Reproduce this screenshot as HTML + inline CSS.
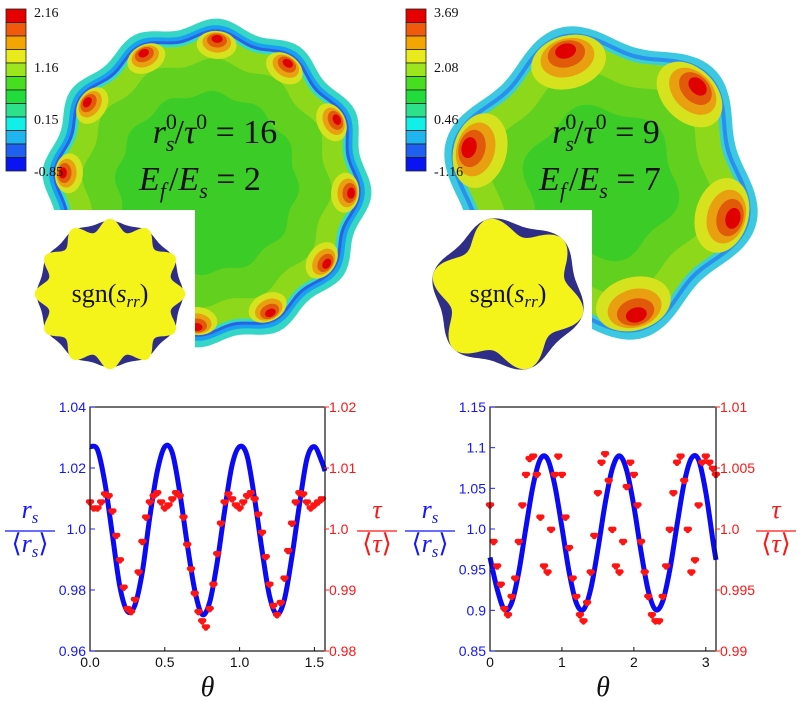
<!DOCTYPE html>
<html><head><meta charset="utf-8"><style>
html,body{margin:0;padding:0;background:#fff;}
svg{display:block;}
</style></head><body>
<svg id="fig" width="800" height="703" viewBox="0 0 800 703" xmlns="http://www.w3.org/2000/svg">
<g id="topPanels"></g>
<g id="bottomPlots"></g>
</svg>
<script>
// ---- Left plot data ----
const leftBlueTheta = [0,0.05,0.10,0.15,0.20,0.25,0.30,0.35,0.40,0.45,0.50,0.55,0.60,0.65,0.70,0.75,0.80,0.85,0.90,0.95,1.00,1.05,1.10,1.15,1.20,1.25,1.30,1.35,1.40,1.45,1.50,1.55,1.5708];
const leftBlueRs = [1.027,1.026,1.015,0.998,0.981,0.973,0.975,0.986,1.004,1.019,1.027,1.025,1.012,0.995,0.980,0.972,0.976,0.989,1.006,1.021,1.027,1.024,1.010,0.993,0.978,0.972,0.977,0.991,1.008,1.023,1.027,1.022,1.019];
const leftRedTheta = [0,0.025,0.05,0.075,0.1,0.125,0.15,0.175,0.2,0.225,0.25,0.275,0.3,0.325,0.35,0.375,0.4,0.425,0.45,0.475,0.5,0.525,0.55,0.575,0.6,0.625,0.65,0.675,0.7,0.725,0.75,0.775,0.8,0.825,0.85,0.875,0.9,0.925,0.95,0.975,1.0,1.025,1.05,1.075,1.1,1.125,1.15,1.175,1.2,1.225,1.25,1.275,1.3,1.325,1.35,1.375,1.4,1.425,1.45,1.475,1.5,1.525,1.55];
const leftRedTau = [1.0045,1.0035,1.0035,1.0045,1.0058,1.0055,1.0030,0.9990,0.9950,0.9905,0.9870,0.9865,0.9885,0.9930,0.9980,1.0020,1.0045,1.0055,1.0060,1.0045,1.0035,1.0040,1.0050,1.0060,1.0055,1.0020,0.9975,0.9935,0.9895,0.9865,0.9850,0.9840,0.9870,0.9910,0.9960,1.0010,1.0045,1.0058,1.0050,1.0040,1.0035,1.0045,1.0055,1.0060,1.0050,1.0025,0.9995,0.9955,0.9910,0.9875,0.9860,0.9880,0.9920,0.9965,1.0010,1.0045,1.0060,1.0058,1.0045,1.0035,1.0040,1.0045,1.0050];
const leftXTicks = ["0.0","0.5","1.0","1.5"];
const leftYLTicks = ["0.96","0.98","1.0","1.02","1.04"];
const leftYRTicks = ["0.98","0.99","1.0","1.01","1.02"];
// ---- Right plot data ----
const rightBlueTheta = [0,0.1,0.2,0.3,0.4,0.5,0.6,0.7,0.8,0.9,1.0,1.1,1.2,1.3,1.4,1.5,1.6,1.7,1.8,1.9,2.0,2.1,2.2,2.3,2.4,2.5,2.6,2.7,2.8,2.9,3.0,3.1,3.1416];
const rightBlueRs = [0.965,0.926,0.901,0.909,0.947,1.002,1.054,1.086,1.086,1.054,1.002,0.947,0.909,0.901,0.926,0.975,1.031,1.074,1.090,1.072,1.028,0.972,0.924,0.901,0.911,0.950,1.005,1.057,1.087,1.085,1.045,0.985,0.962];
const rightRedTheta = [0,0.05,0.1,0.15,0.2,0.25,0.3,0.35,0.4,0.45,0.5,0.55,0.6,0.65,0.7,0.75,0.8,0.85,0.9,0.95,1.0,1.05,1.1,1.15,1.2,1.25,1.3,1.35,1.4,1.45,1.5,1.55,1.6,1.65,1.7,1.75,1.8,1.85,1.9,1.95,2.0,2.05,2.1,2.15,2.2,2.25,2.3,2.35,2.4,2.45,2.5,2.55,2.6,2.65,2.7,2.75,2.8,2.85,2.9,2.95,3.0,3.05,3.1,3.14];
const rightRedTau = [1.002,0.999,0.997,0.9955,0.9935,0.9930,0.9945,0.9960,0.9990,1.0020,1.0045,1.0058,1.0060,1.0045,1.0010,0.9970,0.9965,1.0000,1.0045,1.0060,1.0045,1.0010,0.9985,0.9960,0.9945,0.9930,0.9925,0.9940,0.9965,0.9995,1.0030,1.0055,1.0062,1.0040,1.0000,0.9970,0.9965,0.9990,1.0035,1.0055,1.0045,1.0020,0.9990,0.9965,0.9945,0.9930,0.9925,0.9925,0.9945,0.9970,1.0000,1.0030,1.0055,1.0060,1.0040,1.0000,0.9965,0.9975,1.0020,1.0055,1.0060,1.0055,1.0050,1.0045];
const rightXTicks = ["0","1","2","3"];
const rightYLTicks = ["0.85","0.9","0.95","1.0","1.05","1.1","1.15"];
const rightYRTicks = ["0.99","0.995","1.0","1.005","1.01"];

const NS="http://www.w3.org/2000/svg";
function mk(tag, attrs, parent){const e=document.createElementNS(NS,tag);for(const k in attrs)e.setAttribute(k,attrs[k]);if(parent)parent.appendChild(e);return e;}

// ================= TOP PANELS =================
const topG=document.getElementById('topPanels');
function blob(cx,cy,R,amp,n,ph,scale){
  let d='';
  for(let t=0;t<=360;t+=2){const a=t*Math.PI/180;const r=scale*R*(1+amp*Math.cos(n*(a-ph*Math.PI/180)));
    const x=cx+r*Math.cos(a),y=cy+r*Math.sin(a);d+=(t?'L':'M')+x.toFixed(1)+' '+y.toFixed(1);}
  return d+'Z';
}
const cbColors=['#e60000','#f05a0a','#f5a500','#e8ea1e','#9de61e','#46de1e','#22dc3c','#2ee08c','#10f0e8','#20b4f0','#2060f0','#0a14f0'];
function colorbar(x,labels,name){
  const g=mk('g',{},topG);
  
  
  for(let i=0;i<12;i++)mk('rect',{x:x,y:9+i*13.5,width:20,height:13.5,fill:cbColors[i],stroke:'#222','stroke-width':0.8},g);
  const ys=[17,72,124,176];
  labels.forEach((l,i)=>{const t=mk('text',{x:x+28,y:ys[i],'font-family':'Liberation Serif, serif','font-size':14,fill:'#111'},g);t.textContent=l;});
}
function contour(cx,cy,R,amp,n,ph,spotR,spotScale,layers,name){
  const g=mk('g',{},topG);
  
  
  layers.forEach(l=>mk('path',{d:blob(cx,cy,R,amp,n,ph,l[0]),fill:l[1]},g));
  const cols=['#d6e21e','#e8a010','#e05a0a','#e00000'];
  for(let k=0;k<n;k++){const a=(ph+k*360/n)*Math.PI/180;const rr=spotR*R*(1+amp);
    const x=cx+rr*Math.cos(a),y=cy+rr*Math.sin(a);
    [[1,0],[0.72,0.12],[0.5,0.22],[0.28,0.3]].forEach((s,i)=>{const off=s[1]*spotScale;
      const ex=x+off*Math.cos(a),ey=y+off*Math.sin(a);
      mk('ellipse',{cx:ex,cy:ey,rx:spotScale*s[0],ry:spotScale*s[0]*0.7,transform:`rotate(${ph+k*360/n+90} ${ex} ${ey})`,fill:cols[i]},g);});}
}
contour(207,183,160,0.03,12,-86,0.84,20,[[1.0,'#35d6c6'],[0.96,'#1aa0f0'],[0.935,'#2a62e6'],[0.915,'#33dcc0'],[0.895,'#8ed81c'],[0.76,'#62d01e'],[0.56,'#3ccc28']],'contour-left');
contour(601,183,150,0.07,6,-105,0.78,38,[[1.0,'#3cc8e0'],[0.955,'#2a90ee'],[0.925,'#3ad0d0'],[0.9,'#8ed81c'],[0.72,'#62d01e'],[0.5,'#3ccc28']],'contour-right');
colorbar(6,['2.16','1.16','0.15','-0.85'],'colorbar-left');
colorbar(406,['3.69','2.08','0.46','-1.16'],'colorbar-right');
mk('rect',{x:0,y:210,width:195,height:170,fill:'#fff'},topG);
mk('rect',{x:400,y:210,width:192,height:170,fill:'#fff'},topG);
function inset(cx,cy,R,n,ph,navyAmp,yelScale,yelAmp,name){
  const g=mk('g',{},topG);
  
  
  mk('path',{d:blob(cx,cy,R,navyAmp,n,ph,1),fill:'#2e2e88'},g);
  mk('path',{d:blob(cx,cy,R,yelAmp,n,ph,yelScale),fill:'#f4f41a'},g);
  const t=mk('text',{x:cx,y:cy+8,'text-anchor':'middle','font-family':'Liberation Serif, serif','font-size':26,fill:'#111'},g);
  t.innerHTML='sgn(<tspan font-style="italic">s</tspan><tspan font-style="italic" font-size="17" dy="5">rr</tspan><tspan dy="-5">)</tspan>';
}
inset(110,294,72,12,-90,0.02,0.96,0.09,'sign-inset-left');
inset(508,294,73,6,-105,0.06,0.93,0.14,'sign-inset-right');
function eq(x,y,num,name){
  const t=mk('text',{x:x,y:y,'text-anchor':'middle','font-family':'Liberation Serif, serif','font-size':34,fill:'#111'},topG);
  
  
  t.innerHTML=num;
}
eq(215,143,'<tspan font-style="italic">r</tspan><tspan font-size="22" dy="-14">0</tspan><tspan font-size="22" dx="-11" dy="22" font-style="italic">s</tspan><tspan dy="-8">/</tspan><tspan font-style="italic">τ</tspan><tspan font-size="22" dy="-14">0</tspan><tspan dy="14"> = 16</tspan>','equation-ratio-left');
eq(200,190,'<tspan font-style="italic">E</tspan><tspan font-size="22" dy="8" font-style="italic">f</tspan><tspan dy="-8" dx="3">/</tspan><tspan font-style="italic">E</tspan><tspan font-size="22" dy="8" font-style="italic">s</tspan><tspan dy="-8"> = 2</tspan>','equation-modulus-left');
eq(606,143,'<tspan font-style="italic">r</tspan><tspan font-size="22" dy="-14">0</tspan><tspan font-size="22" dx="-11" dy="22" font-style="italic">s</tspan><tspan dy="-8">/</tspan><tspan font-style="italic">τ</tspan><tspan font-size="22" dy="-14">0</tspan><tspan dy="14"> = 9</tspan>','equation-ratio-right');
eq(600,190,'<tspan font-style="italic">E</tspan><tspan font-size="22" dy="8" font-style="italic">f</tspan><tspan dy="-8" dx="3">/</tspan><tspan font-style="italic">E</tspan><tspan font-size="22" dy="8" font-style="italic">s</tspan><tspan dy="-8"> = 7</tspan>','equation-modulus-right');

// ================= BOTTOM PLOTS =================
const botG=document.getElementById('bottomPlots');
function fracLabel(cx,color,kind,name){
  const g=mk('g',{fill:color,'font-family':'Liberation Serif, serif','font-size':26},botG);
  
  
  const w = kind==='r'?50:40;
  const n=mk('text',{x:cx,y:518,'text-anchor':'middle','font-style':'italic'},g);
  const d=mk('text',{x:cx,y:552,'text-anchor':'middle'},g);
  if(kind==='r'){n.innerHTML='r<tspan font-size="17" dy="5">s</tspan>';d.innerHTML='⟨<tspan font-style="italic">r</tspan><tspan font-style="italic" font-size="17" dy="5">s</tspan><tspan dy="-5">⟩</tspan>';}
  else{n.textContent='τ';d.innerHTML='⟨<tspan font-style="italic">τ</tspan>⟩';}
  mk('line',{x1:cx-w/2,x2:cx+w/2,y1:531,y2:531,stroke:color,'stroke-width':1.3},g);
}
const dotOffsets=[[0,0],[-1.8,0],[1.8,0],[0,1.8]];
function plot(cfg){
  const g=mk('g',{},botG);
  
  
  const x0=cfg.x0,x1=cfg.x1,y0=cfg.y0,y1=cfg.y1;
  const sx=v=>x0+(v-cfg.xmin)/(cfg.xmax-cfg.xmin)*(x1-x0);
  const syL=v=>y1-(v-cfg.lmin)/(cfg.lmax-cfg.lmin)*(y1-y0);
  const syR=v=>y1-(v-cfg.rmin)/(cfg.rmax-cfg.rmin)*(y1-y0);
  const pts=cfg.bx.map((t,i)=>[sx(t),syL(cfg.by[i])]);
  let d='M'+pts[0][0]+' '+pts[0][1];
  for(let i=0;i<pts.length-1;i++){const p0=pts[Math.max(0,i-1)],p1=pts[i],p2=pts[i+1],p3=pts[Math.min(pts.length-1,i+2)];
    d+='C'+(p1[0]+(p2[0]-p0[0])/6)+' '+(p1[1]+(p2[1]-p0[1])/6)+' '+(p2[0]-(p3[0]-p1[0])/6)+' '+(p2[1]-(p3[1]-p1[1])/6)+' '+p2[0]+' '+p2[1];}
  const bl=mk('path',{d:d,fill:'none',stroke:'#0a0af5','stroke-width':5},g);
  
  
  const rg=mk('g',{fill:'#ff1414'},g);
  
  
  cfg.rx.forEach((t,i)=>{const px=sx(t),py=syR(cfg.ry[i]);
    const pg=mk('g',{},rg);
    
    
    dotOffsets.forEach(o=>mk('circle',{cx:(px+o[0]).toFixed(1),cy:(py+o[1]).toFixed(1),r:2.4},pg));});
  const fr=mk('rect',{x:x0,y:y0,width:x1-x0,height:y1-y0,fill:'none',stroke:'#111','stroke-width':1.2},g);
  
  
  const font={'font-family':'Liberation Sans, sans-serif','font-size':14};
  cfg.xt.forEach(l=>{const x=sx(parseFloat(l));mk('line',{x1:x,x2:x,y1:y1,y2:y1-4,stroke:'#111'},g);
    const t=mk('text',Object.assign({x:x,y:y1+16,'text-anchor':'middle',fill:'#111'},font),g);t.textContent=l;
    
    });
  cfg.lt.forEach(l=>{const y=syL(parseFloat(l));mk('line',{x1:x0,x2:x0+5,y1:y,y2:y,stroke:'#2222ff'},g);
    const t=mk('text',Object.assign({x:x0-4,y:y+5,'text-anchor':'end',fill:'#1515ff'},font),g);t.textContent=l;
    
    });
  cfg.rtk.forEach(l=>{const y=syR(parseFloat(l));mk('line',{x1:x1-1,x2:x1+4,y1:y,y2:y,stroke:'#ff2222'},g);
    const t=mk('text',Object.assign({x:x1+4,y:y+5,'text-anchor':'start',fill:'#ff1515'},font),g);t.textContent=l;
    
    });
  const th=mk('text',{x:(x0+x1)/2,y:696,'text-anchor':'middle','font-family':'Liberation Serif, serif','font-size':28,'font-style':'italic',fill:'#111'},g);
  th.textContent='θ';
  
  
}
plot({name:'plot-left',x0:90,x1:325,y0:407,y1:651,xmin:0,xmax:1.5708,lmin:0.96,lmax:1.04,rmin:0.98,rmax:1.02,
  bx:leftBlueTheta,by:leftBlueRs,rx:leftRedTheta,ry:leftRedTau,xt:leftXTicks,lt:leftYLTicks,rtk:leftYRTicks});
plot({name:'plot-right',x0:490,x1:716,y0:407,y1:651,xmin:0,xmax:3.1416,lmin:0.85,lmax:1.15,rmin:0.99,rmax:1.01,
  bx:rightBlueTheta,by:rightBlueRs,rx:rightRedTheta,ry:rightRedTau,xt:rightXTicks,lt:rightYLTicks,rtk:rightYRTicks});
fracLabel(30,'#1515ff','r','left-y-axis-title-left');
fracLabel(377,'#ff1515','t','right-y-axis-title-left');
fracLabel(430,'#1515ff','r','left-y-axis-title-right');
fracLabel(776,'#ff1515','t','right-y-axis-title-right');
</script>
</body></html>
